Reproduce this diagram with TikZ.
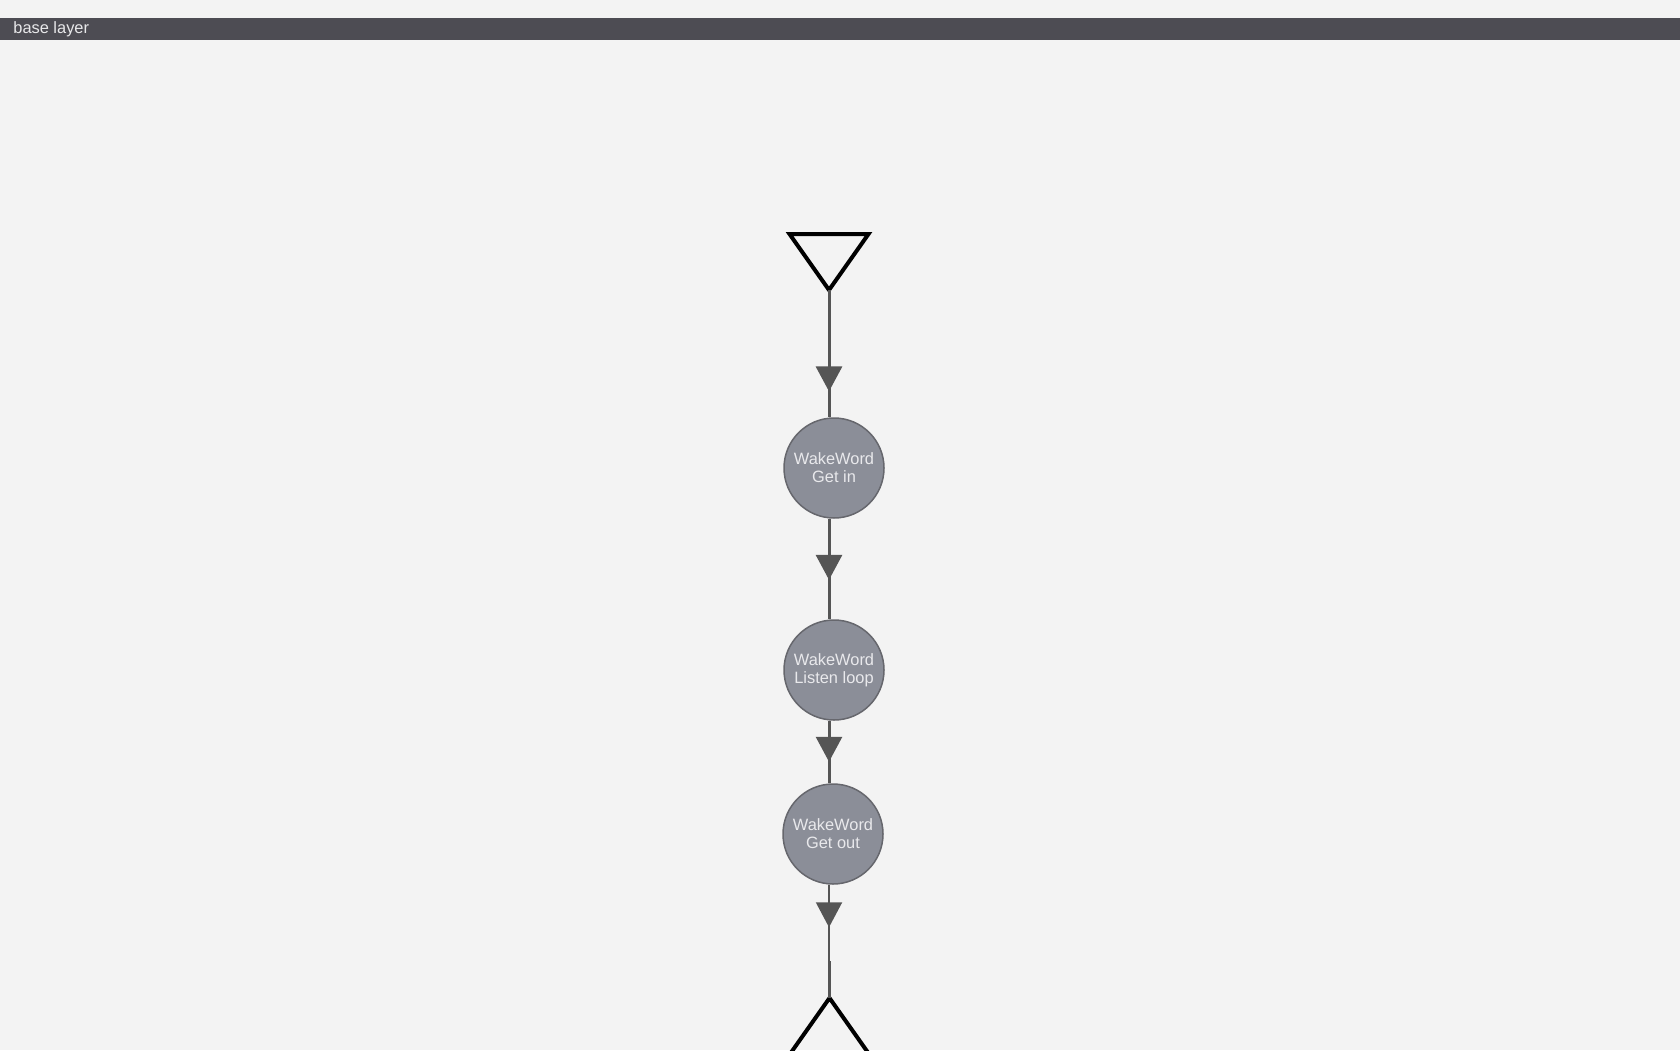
\documentclass[tikz,border=0pt]{standalone}
\usepackage{fontspec}
\setmainfont{Liberation Sans}
\usetikzlibrary{arrows.meta,decorations.markings}
\definecolor{canvas}{HTML}{F3F3F3}
\definecolor{barfill}{HTML}{4D4C53}
\definecolor{barink}{HTML}{E8E8EA}
\definecolor{statefill}{HTML}{8B8E98}
\definecolor{stateline}{HTML}{66676D}
\definecolor{stateink}{HTML}{E9E9EC}
\definecolor{flowline}{HTML}{555555}
\begin{document}
\begin{tikzpicture}[x=0.5pt, y=-0.5pt,
    state/.style={draw=stateline, line width=0.75pt, fill=statefill, circle, minimum size=50pt, inner sep=0pt,
      text=stateink, align=center, font=\fontsize{8.2}{9.1}\selectfont},
    terminal/.style={draw=black, line width=2pt, line join=miter},
    flow/.style={draw=flowline, line width=1.5pt, decoration={markings,
      mark=at position #1 with {\arrow[flowline]{Triangle[width=13pt,length=12.5pt]}}}, postaction={decorate}}]
		\fill[canvas] (0,0) rectangle (1680,1050);
		\useasboundingbox (0,0) rectangle (1680,1050);
		\clip (0,0) rectangle (1680,1050);
		\fill[barfill] (0,18) rectangle (1680,40);
		\node [anchor=west, text=barink, font=\fontsize{8.2}{9}\selectfont, inner sep=0pt] (layer) at (13,29) {base layer};
		\coordinate (src) at (829,290);
		\coordinate (joint) at (829,961);
		\coordinate (sink) at (829.5,998);
		\draw[terminal] (src) -- (789.5,234) -- (868.5,234) -- cycle;
		\draw[terminal] (sink) -- (790,1054) -- (869,1054) -- cycle;
		\node [state] (getin) at (834,468) {WakeWord\\Get in};
		\node [state] (listen) at (834,670) {WakeWord\\Listen loop};
		\node [state] (getout) at (833,834) {WakeWord\\Get out};
		\draw[flow=0.797] (src) -- (src |- getin.north);
		\draw[flow=0.608] (getin.south -| src) -- (src |- listen.north);
		\draw[flow=0.656] (listen.south -| src) -- (src |- getout.north);
		\draw[flow=0.558, line width=1pt] (getout.south -| src) -- (joint);
		\draw[flowline, line width=1.5pt] (joint -| sink) -- (sink);
    \end{tikzpicture}
\end{document}
